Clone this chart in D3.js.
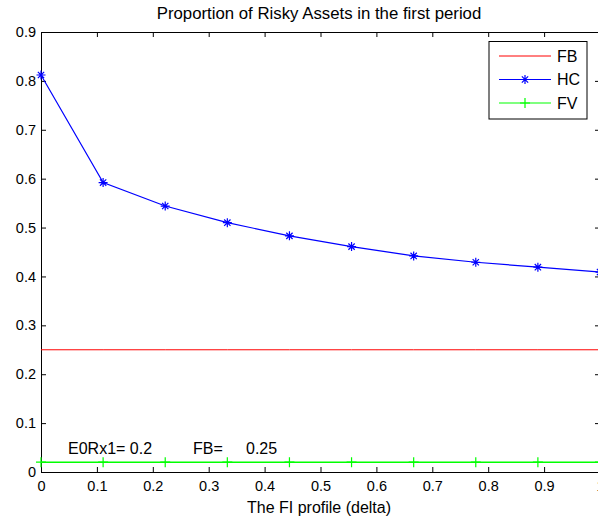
<!DOCTYPE html>
<html><head><meta charset="utf-8">
<script src="https://cdn.jsdelivr.net/npm/d3@7"></script>
<style>
body{margin:0;background:#fff;}
svg text{font-family:"Liberation Sans",Arial,sans-serif;font-size:16px;fill:#000;}
svg .tick text{font-size:14.5px;}
svg text.title{font-size:16.8px;}
</style></head>
<body>
<script>
const deltaValues = [0, 1/9, 2/9, 3/9, 4/9, 5/9, 6/9, 7/9, 8/9, 1];
const fbValues = [0.25, 0.25, 0.25, 0.25, 0.25, 0.25, 0.25, 0.25, 0.25, 0.25];
const hcValues = [0.812, 0.592, 0.544, 0.510, 0.483, 0.461, 0.442, 0.429, 0.419, 0.409];
const fvValues = [0.02, 0.02, 0.02, 0.02, 0.02, 0.02, 0.02, 0.02, 0.02, 0.02];
const xTicks = [0, 0.1, 0.2, 0.3, 0.4, 0.5, 0.6, 0.7, 0.8, 0.9, 1];
const yTicks = [0, 0.1, 0.2, 0.3, 0.4, 0.5, 0.6, 0.7, 0.8, 0.9];
const seriesNames = ["FB", "HC", "FV"];
const titleText = "Proportion of Risky Assets in the first period";
const xLabelText = "The FI profile (delta)";

const W = 598, H = 520;
const L = 41, R = 600, T = 32, B = 472;
const svg = d3.select("body").append("svg").attr("width", W).attr("height", H);
const x = d3.scaleLinear().domain([0, 1]).range([L, R]);
const y = d3.scaleLinear().domain([0, 0.9]).range([B, T]);

const fmt = d => d === 0 ? "0" : d3.format("")(d);
const gx = svg.append("g").attr("transform", `translate(0,${B})`)
  .call(d3.axisBottom(x).tickValues(xTicks).tickSizeInner(-5).tickSizeOuter(0).tickPadding(9).tickFormat(fmt));
const gxt = svg.append("g").attr("transform", `translate(0,${T})`)
  .call(d3.axisTop(x).tickValues(xTicks).tickSizeInner(-5).tickSizeOuter(0).tickFormat(""));
const gy = svg.append("g").attr("transform", `translate(${L},0)`)
  .call(d3.axisLeft(y).tickValues(yTicks).tickSizeInner(-5).tickSizeOuter(0).tickPadding(5).tickFormat(fmt));
const gyr = svg.append("g").attr("transform", `translate(${R},0)`)
  .call(d3.axisRight(y).tickValues(yTicks).tickSizeInner(-5).tickSizeOuter(0).tickFormat(""));
[gx, gxt, gy, gyr].forEach(g => {
  g.selectAll("path.domain").attr("stroke", "#000").attr("stroke-width", 1);
  g.selectAll("line").attr("stroke", "#000").attr("stroke-width", 1);
  g.selectAll("text").attr("font-family", null).attr("font-size", null).attr("fill", "#000");
});
gx.selectAll("text").attr("dy", "0.71em");

const plot = svg.append("g");
const line = vals => d3.line().x((d, i) => x(deltaValues[i])).y(d => y(d))(vals);

const starPath = s => `M${-s},0L${s},0M0,${-s}L0,${s}M${-s*0.7},${-s*0.7}L${s*0.7},${s*0.7}M${-s*0.7},${s*0.7}L${s*0.7},${-s*0.7}`;
const plusPath = s => `M${-s},0L${s},0M0,${-s}L0,${s}`;

// FB
plot.append("path").attr("d", line(fbValues)).attr("fill", "none").attr("stroke", "#ff0000").attr("stroke-width", 1);
// HC
plot.append("path").attr("d", line(hcValues)).attr("fill", "none").attr("stroke", "#0000ff").attr("stroke-width", 1.2);
plot.selectAll(".hc").data(hcValues).join("path").attr("class", "hc")
  .attr("transform", (d, i) => `translate(${x(deltaValues[i])},${y(d)})`)
  .attr("d", starPath(4.5)).attr("stroke", "#0000ff").attr("stroke-width", 1.2).attr("fill", "none");
// FV
plot.append("path").attr("d", line(fvValues)).attr("fill", "none").attr("stroke", "#00ff00").attr("stroke-width", 1.4);
plot.selectAll(".fv").data(fvValues).join("path").attr("class", "fv")
  .attr("transform", (d, i) => `translate(${x(deltaValues[i])},${y(d)})`)
  .attr("d", plusPath(5)).attr("stroke", "#00ff00").attr("stroke-width", 1.2).attr("fill", "none");

// annotation
const ann = svg.append("text").attr("y", 454);
ann.append("tspan").attr("x", 68).text("E0Rx1= 0.2");
ann.append("tspan").attr("x", 193).text("FB=");
ann.append("tspan").attr("x", 246).text("0.25");

// title & x label
svg.append("text").attr("class", "title").attr("x", 319).attr("y", 18.5).attr("text-anchor", "middle").text(titleText);
svg.append("text").attr("x", 319).attr("y", 513).attr("text-anchor", "middle").text(xLabelText);

// legend
const lg = svg.append("g");
lg.append("rect").attr("x", 489).attr("y", 41.5).attr("width", 98).attr("height", 77.5)
  .attr("fill", "#fff").attr("stroke", "#000").attr("stroke-width", 1);
const colors = ["#ff0000", "#0000ff", "#00ff00"];
const markers = [null, starPath(4.5), plusPath(5)];
seriesNames.forEach((n, i) => {
  const yy = 56 + i * 23.5;
  lg.append("line").attr("x1", 499).attr("x2", 551).attr("y1", yy).attr("y2", yy)
    .attr("stroke", colors[i]).attr("stroke-width", i === 0 ? 1 : 1.2);
  if (markers[i]) lg.append("path").attr("transform", `translate(525,${yy})`).attr("d", markers[i])
    .attr("stroke", colors[i]).attr("stroke-width", 1.2).attr("fill", "none");
  lg.append("text").attr("x", 557).attr("y", yy).attr("dy", "0.35em").text(n);
});
</script>
</body></html>
